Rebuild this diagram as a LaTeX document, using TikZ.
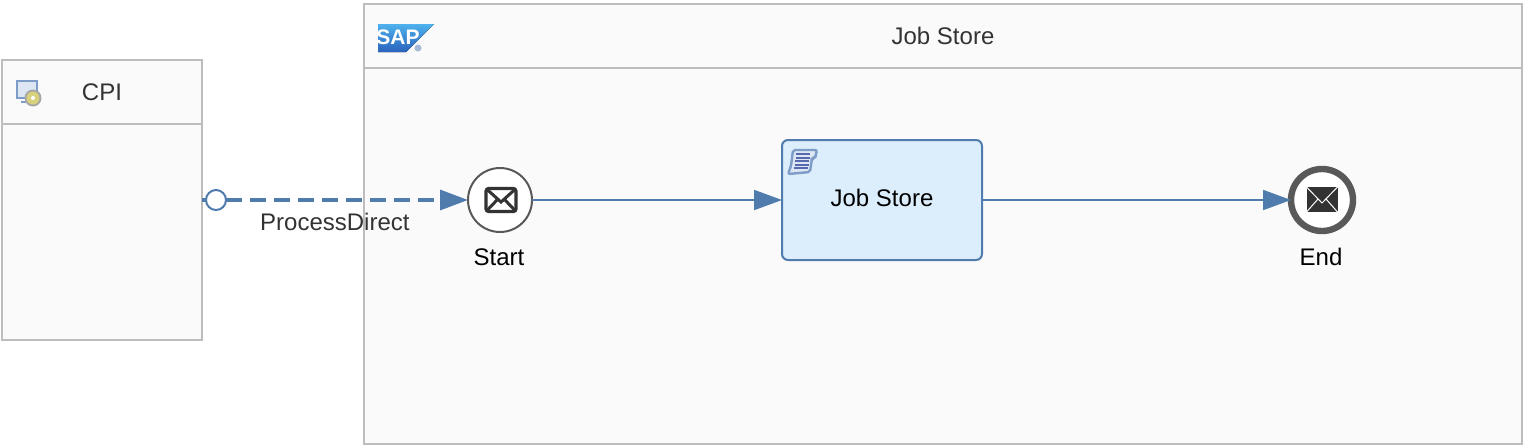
\documentclass[tikz,border=0pt]{standalone}
\usepackage{fontspec}
\setmainfont{Liberation Sans}
\usetikzlibrary{arrows.meta,positioning}
\definecolor{poolgray}{HTML}{BDBDBD}
\definecolor{poolfill}{HTML}{FAFAFA}
\definecolor{flowblue}{HTML}{4F7CAC}
\definecolor{taskfill}{HTML}{DCEDFC}
\definecolor{textdark}{HTML}{333333}
\definecolor{saptop}{HTML}{4FB2EE}
\definecolor{sapbottom}{HTML}{2A62BC}
\definecolor{iconblue}{HTML}{7E9CC8}
\definecolor{iconpale}{HTML}{DDE7F4}
\definecolor{iconline}{HTML}{5568B0}
\definecolor{discyellow}{HTML}{D8D27E}
\tikzset{
  >={Triangle[length=14pt,width=10pt]},
  txt/.style={font=\fontsize{12}{14}\selectfont,inner sep=0pt},
  pool/.style={draw=poolgray,fill=poolfill,line width=1pt,inner sep=0pt,outer sep=0pt},
  pooltitle/.style={txt,text=textdark},
  flow/.style={draw=flowblue,line width=1pt,->},
  message/.style={draw=flowblue,line width=1.7pt,dash pattern=on 8pt off 4pt,
    -{Triangle[length=14pt,width=10pt]}},
  startevent/.style={circle,draw=black!65,fill=white,line width=1pt,minimum size=32pt,inner sep=0pt,outer sep=0pt},
  endevent/.style={circle,draw=black!65,fill=white,line width=3.2pt,minimum size=31pt,inner sep=0pt,outer sep=0pt},
  port/.style={circle,draw=flowblue,fill=white,line width=1pt,minimum size=10pt,inner sep=0pt,outer sep=0pt},
  task/.style={txt,draw=flowblue,fill=taskfill,line width=1pt,rounded corners=3pt,minimum width=100pt,minimum height=60pt,outer sep=0pt},
}
\begin{document}
\begin{tikzpicture}[x=0.5pt,y=-0.5pt]
    \useasboundingbox (0,0) rectangle (1524,446);
    % pools
    \node[pool,minimum width=100pt,minimum height=140pt] (cpi) at (102,200) {};
    \node[pool,minimum width=579pt,minimum height=220pt] (store) at (943,224) {};
    \draw[poolgray,line width=1pt] (cpi.west |- 0,124) -- (cpi.east |- 0,124);
    \draw[poolgray,line width=1pt] (store.west |- 0,68) -- (store.east |- 0,68);
    \node[pooltitle] (cpiTitle) at (102,92) {CPI};
    \node[pooltitle] (storeTitle) at (943,36) {Job Store};
    % sap logo
    \fill[top color=saptop,bottom color=sapbottom] (378,24) -- (434,24) -- (406,52) -- (378,52) -- cycle;
    \node[inner sep=0pt,text=white,font=\bfseries\fontsize{10.5}{12}\selectfont] (sapText) at (398,37) {SAP};
    \fill[iconblue!70] (418,48) circle (3.5);
    % cpi icon
    \draw[iconblue,fill=iconpale,line width=1pt] (17,81) rectangle (37,98);
    \draw[iconblue,line width=1pt] (21,102) -- (31,102);
    \fill[gray!70] (33,98) circle (8.5);
    \fill[discyellow] (33,98) circle (6.5);
    \fill[white] (33,98) circle (2);
    % nodes
    \node[startevent] (start) at (500,200) {};
    \node[task] (job) at (882,200) {\raisebox{2pt}{Job Store}};
    \node[endevent] (end) at (1322,200) {};
    \node[txt,text=black] (startText) at (499,257) {Start};
    \node[txt,text=black] (endText) at (1321,257) {End};
    \node[port] (portCpi) at (216,200) {};
    % connectors
    \draw[draw=flowblue,line width=1.7pt] (cpi.east |- portCpi) -- (portCpi.west);
    \draw[message] (portCpi.east) -- (start.west) node[pooltitle,pos=0.45,below=5.5pt] (msgLabel) {ProcessDirect};
    \draw[flow] (start.east) -- (job.west);
    \draw[flow] (job.east) -- (end.west);
    % start envelope
    \begin{scope}[shift={(start.center)}]
        \draw[textdark,fill=white,line width=1.7pt,rounded corners=1.5pt] (-14,-11.5) rectangle (16,11.5);
        \draw[textdark,line width=1.5pt] (-14,-11.5) -- (1,2) -- (16,-11.5);
        \draw[textdark,line width=1.5pt] (-14,11.5) -- (-3,0) (16,11.5) -- (5,0);
    \end{scope}
    % end envelope
    \begin{scope}[shift={(end.center)}]
        \fill[textdark] (-15.5,-13) rectangle (15.5,12);
        \draw[white,line width=0.5pt] (-15.5,-13) -- (0,3) -- (15.5,-13);
        \draw[white,line width=0.5pt] (-15.5,12) -- (-4,-1) (15.5,12) -- (4,-1);
    \end{scope}
    % scroll icon
    \draw[iconblue,fill=iconpale,line width=1.2pt,rounded corners=1pt] (793,150) -- (817,150) -- (815,158) -- (812,158) -- (810,172) -- (788,174) -- (791,166) -- cycle;
    \foreach \i in {0,...,4}
        \draw[iconline,line width=1pt] (796-\i*0.4,154+\i*3.5) -- (810-\i*0.4,154+\i*3.5);
\end{tikzpicture}
\end{document}
